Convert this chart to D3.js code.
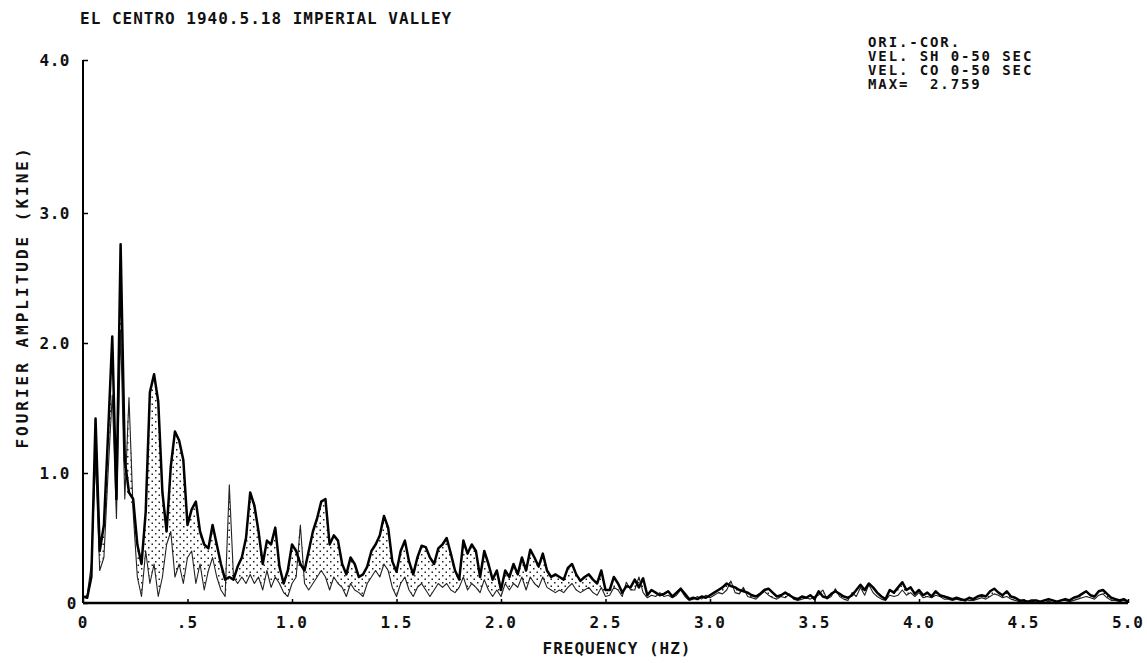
<!DOCTYPE html>
<html>
<head>
<meta charset="utf-8">
<script src="https://cdn.jsdelivr.net/npm/d3@7"></script>
<style>
  html, body { margin: 0; padding: 0; background: #fff; }
  svg { display: block; }
  text { font-family: "DejaVu Sans Mono", "Liberation Mono", monospace; font-weight: bold; fill: #111; }
</style>
</head>
<body>
<svg id="chart" width="1147" height="663"></svg>
<script>
// Fourier amplitude spectra, El Centro 1940 record, velocity 0-50 s window.
// Spectral lines every 0.02 Hz from 0 to 5.0 Hz.
const df = 0.02;

// SH component (heavy line)
const ampSH = [
  0.05, 0.04, 0.20, 1.42, 0.40, 0.60, 1.30, 2.05, 0.80, 2.76,
  1.10, 0.85, 0.80, 0.45, 0.30, 0.70, 1.62, 1.76, 1.55, 0.85,
  0.55, 1.05, 1.32, 1.25, 1.10, 0.60, 0.72, 0.78, 0.55, 0.45,
  0.42, 0.60, 0.45, 0.30, 0.18, 0.20, 0.18, 0.28, 0.35, 0.50,
  0.85, 0.75, 0.55, 0.30, 0.48, 0.45, 0.58, 0.28, 0.15, 0.25,
  0.45, 0.40, 0.30, 0.25, 0.40, 0.55, 0.65, 0.78, 0.80, 0.45,
  0.52, 0.48, 0.30, 0.22, 0.35, 0.30, 0.20, 0.22, 0.28, 0.40,
  0.45, 0.52, 0.67, 0.58, 0.32, 0.24, 0.40, 0.48, 0.32, 0.22,
  0.35, 0.44, 0.43, 0.35, 0.30, 0.42, 0.45, 0.50, 0.38, 0.25,
  0.18, 0.48, 0.38, 0.45, 0.40, 0.20, 0.40, 0.30, 0.18, 0.25,
  0.10, 0.25, 0.20, 0.30, 0.22, 0.35, 0.25, 0.41, 0.35, 0.28,
  0.38, 0.25, 0.20, 0.22, 0.20, 0.18, 0.27, 0.30, 0.22, 0.17,
  0.20, 0.22, 0.18, 0.15, 0.25, 0.10, 0.10, 0.20, 0.15, 0.08,
  0.13, 0.12, 0.18, 0.12, 0.19, 0.06, 0.10, 0.08, 0.06, 0.07,
  0.09, 0.05, 0.08, 0.11, 0.07, 0.03, 0.04, 0.03, 0.05, 0.04,
  0.06, 0.08, 0.10, 0.12, 0.15, 0.13, 0.12, 0.10, 0.09, 0.08,
  0.06, 0.05, 0.07, 0.10, 0.11, 0.08, 0.05, 0.06, 0.08, 0.06,
  0.04, 0.03, 0.05, 0.04, 0.06, 0.03, 0.09, 0.05, 0.04, 0.07,
  0.09, 0.07, 0.05, 0.04, 0.06, 0.10, 0.14, 0.10, 0.15, 0.12,
  0.08, 0.05, 0.03, 0.10, 0.08, 0.12, 0.16, 0.10, 0.12, 0.07,
  0.10, 0.06, 0.08, 0.05, 0.09, 0.06, 0.05, 0.04, 0.03, 0.04,
  0.03, 0.02, 0.04, 0.03, 0.05, 0.06, 0.05, 0.09, 0.11, 0.08,
  0.06, 0.09, 0.05, 0.04, 0.02, 0.02, 0.01, 0.02, 0.02, 0.01,
  0.02, 0.03, 0.02, 0.01, 0.02, 0.03, 0.02, 0.04, 0.05, 0.07,
  0.09, 0.06, 0.05, 0.09, 0.10, 0.07, 0.04, 0.03, 0.02, 0.03,
  0.01
];

// CO component (light line)
const ampCO = [
  0.04, 0.06, 0.30, 1.10, 0.25, 0.35, 1.00, 1.60, 0.65, 2.10,
  0.80, 1.58, 0.70, 0.20, 0.05, 0.40, 0.15, 0.30, 0.05, 0.20,
  0.45, 0.55, 0.20, 0.30, 0.15, 0.35, 0.40, 0.15, 0.30, 0.10,
  0.25, 0.35, 0.20, 0.10, 0.05, 0.91, 0.20, 0.15, 0.20, 0.15,
  0.22, 0.15, 0.20, 0.10, 0.25, 0.12, 0.20, 0.15, 0.08, 0.05,
  0.15, 0.20, 0.60, 0.15, 0.10, 0.15, 0.20, 0.25, 0.20, 0.10,
  0.20, 0.15, 0.12, 0.05, 0.15, 0.10, 0.08, 0.05, 0.15, 0.20,
  0.25, 0.20, 0.30, 0.25, 0.12, 0.05, 0.15, 0.20, 0.10, 0.05,
  0.12, 0.15, 0.10, 0.05, 0.10, 0.15, 0.12, 0.15, 0.10, 0.08,
  0.12, 0.20, 0.10, 0.15, 0.12, 0.08, 0.18, 0.10, 0.05, 0.10,
  0.05, 0.15, 0.10, 0.15, 0.12, 0.20, 0.10, 0.20, 0.15, 0.12,
  0.20, 0.12, 0.10, 0.08, 0.10, 0.08, 0.12, 0.15, 0.10, 0.08,
  0.10, 0.12, 0.08, 0.06, 0.12, 0.05, 0.06, 0.12, 0.10, 0.05,
  0.16, 0.10, 0.10, 0.20, 0.08, 0.04, 0.06, 0.05, 0.08, 0.05,
  0.06, 0.04, 0.06, 0.10, 0.05, 0.02, 0.03, 0.05, 0.03, 0.06,
  0.04, 0.06, 0.08, 0.07, 0.10, 0.17, 0.08, 0.07, 0.12, 0.05,
  0.04, 0.03, 0.06, 0.09, 0.06, 0.04, 0.03, 0.05, 0.04, 0.07,
  0.03, 0.02, 0.03, 0.04, 0.03, 0.05, 0.06, 0.10, 0.03, 0.05,
  0.11, 0.05, 0.03, 0.02, 0.08, 0.05, 0.12, 0.06, 0.14, 0.08,
  0.05, 0.03, 0.02, 0.06, 0.05, 0.06, 0.10, 0.06, 0.08, 0.05,
  0.08, 0.04, 0.05, 0.04, 0.06, 0.05, 0.03, 0.03, 0.02, 0.03,
  0.02, 0.03, 0.02, 0.02, 0.03, 0.04, 0.03, 0.05, 0.07, 0.06,
  0.04, 0.05, 0.03, 0.02, 0.01, 0.02, 0.01, 0.01, 0.02, 0.01,
  0.02, 0.01, 0.02, 0.01, 0.02, 0.02, 0.01, 0.02, 0.03, 0.04,
  0.05, 0.04, 0.03, 0.06, 0.07, 0.04, 0.02, 0.02, 0.01, 0.02,
  0.01
];

const xTicks = [0, 0.5, 1.0, 1.5, 2.0, 2.5, 3.0, 3.5, 4.0, 4.5, 5.0];
const xTickLabels = ["0", ".5", "1.0", "1.5", "2.0", "2.5", "3.0", "3.5", "4.0", "4.5", "5.0"];
const yTicks = [0, 1, 2, 3, 4];
const yTickLabels = ["0", "1.0", "2.0", "3.0", "4.0"];

const titleText = "EL CENTRO 1940.5.18 IMPERIAL VALLEY";
const legendLines = ["ORI.-COR.", "VEL. SH 0-50 SEC", "VEL. CO 0-50 SEC", "MAX=  2.759"];
const xTitle = "FREQUENCY (HZ)";
const yTitle = "FOURIER AMPLITUDE (KINE)";

const svg = d3.select("#chart");
const x = d3.scaleLinear().domain([0, 5]).range([83, 1128]);
// the plotter's amplitude axis: uniform up to 3.0, last division drawn taller
const y = d3.scaleLinear().domain([0, 3, 4]).range([603, 213, 60]);

const rows = ampSH.map((v, i) => ({ f: i * df, sh: v, co: ampCO[i] }));

// stipple pattern for the band between the two spectra
const defs = svg.append("defs");
const pat = defs.append("pattern")
  .attr("id", "stipple").attr("patternUnits", "userSpaceOnUse")
  .attr("width", 7).attr("height", 7);
pat.append("rect").attr("x", 1).attr("y", 1).attr("width", 1.5).attr("height", 1.5).attr("fill", "#222");
pat.append("rect").attr("x", 4.5).attr("y", 4.5).attr("width", 1.5).attr("height", 1.5).attr("fill", "#222");

const band = d3.area()
  .x(d => x(d.f))
  .y0(d => y(Math.min(d.sh, d.co)))
  .y1(d => y(Math.max(d.sh, d.co)));
svg.append("path").datum(rows).attr("d", band).attr("fill", "url(#stipple)");

// light CO line
svg.append("path").datum(rows)
  .attr("d", d3.line().x(d => x(d.f)).y(d => y(d.co)))
  .attr("fill", "none").attr("stroke", "#222").attr("stroke-width", 1.1)
  .attr("stroke-linejoin", "round");

// heavy SH line
svg.append("path").datum(rows)
  .attr("d", d3.line().x(d => x(d.f)).y(d => y(d.sh)))
  .attr("fill", "none").attr("stroke", "#000").attr("stroke-width", 2.5)
  .attr("stroke-linejoin", "round");

// axes
const xAxis = d3.axisTop(x).tickValues(xTicks).tickSize(4).tickFormat("");
svg.append("g").attr("transform", `translate(0,${y(0)})`).call(xAxis)
  .call(g => g.select(".domain").attr("stroke", "#000").attr("stroke-width", 2.5).attr("d", `M${x(0)},0H${x(5)}`))
  .call(g => g.selectAll(".tick line").attr("stroke", "#000").attr("stroke-width", 1.5));

const yAxis = d3.axisRight(y).tickValues(yTicks).tickSize(5).tickFormat("");
svg.append("g").attr("transform", `translate(${x(0)},0)`).call(yAxis)
  .call(g => g.select(".domain").attr("stroke", "#000").attr("stroke-width", 2).attr("d", `M0,${y(0)}V${y(4)}`))
  .call(g => g.selectAll(".tick line").attr("stroke", "#000").attr("stroke-width", 1.5));

const fontSize = 16, spacing = 1.0;

svg.append("g").selectAll("text").data(xTicks).join("text")
  .attr("x", d => x(d)).attr("y", 628)
  .attr("text-anchor", "middle")
  .attr("font-size", fontSize).attr("letter-spacing", spacing)
  .text((d, i) => xTickLabels[i]);

svg.append("g").selectAll("text").data(yTicks).join("text")
  .attr("x", d => d === 0 ? x(0) - 6 : x(0) - 13).attr("y", d => y(d) + 6)
  .attr("text-anchor", "end")
  .attr("font-size", fontSize).attr("letter-spacing", 0.5)
  .text((d, i) => yTickLabels[i]);

svg.append("text").attr("x", 80).attr("y", 24)
  .attr("font-size", fontSize).attr("letter-spacing", spacing)
  .text(titleText);

svg.append("g").selectAll("text").data(legendLines).join("text")
  .attr("x", 868).attr("y", (d, i) => 47 + i * 14)
  .attr("font-size", 14).attr("letter-spacing", 1.9)
  .attr("xml:space", "preserve").style("white-space", "pre")
  .text(d => d);

svg.append("text").attr("x", 617).attr("y", 654)
  .attr("text-anchor", "middle")
  .attr("font-size", fontSize).attr("letter-spacing", spacing)
  .text(xTitle);

svg.append("text").attr("transform", "translate(28,297) rotate(-90)")
  .attr("text-anchor", "middle")
  .attr("font-size", fontSize).attr("letter-spacing", 3)
  .text(yTitle);
</script>
</body>
</html>
